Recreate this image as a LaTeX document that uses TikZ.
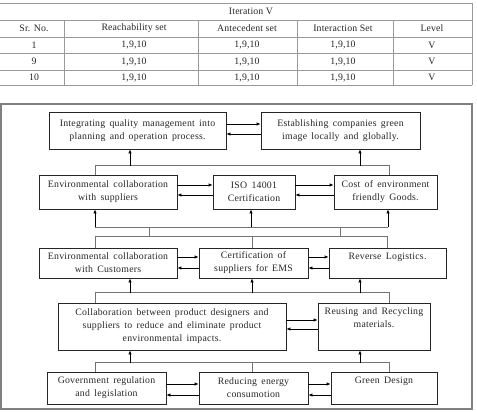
\documentclass[tikz,border=0pt]{standalone}
\usepackage{fontspec}
\setmainfont{Liberation Serif}
\newfontfamily\flowfont{Liberation Serif}[LetterSpace=2.5,WordSpace=1.6]
\newfontfamily\tabfont{Liberation Serif}[LetterSpace=1.5]
\usetikzlibrary{arrows.meta}
\begin{document}
\begin{tikzpicture}[x=1pt,y=-1pt,
 box/.style={draw=black!85,line width=0.8pt,inner sep=0pt,align=center,font=\flowfont\fontsize{9.8}{13}\selectfont,text=black!85},
 btext/.style={inner sep=0pt,align=center,font=\flowfont\fontsize{9.8}{13}\selectfont,text=black!85,anchor=north},
 bus/.style={draw=black!55,line width=0.8pt},
 arr/.style={draw=black,line width=0.8pt,-{Latex[length=4pt,width=3.5pt]}},
 tline/.style={draw=black!40,line width=0.6pt},
 ttext/.style={font=\tabfont\fontsize{9.8}{11}\selectfont,text=black!85,inner sep=0pt},
 frame/.style={draw=black!50,line width=1.3pt},
]
\useasboundingbox (0,0) rectangle (477,412);

% ---------- table ----------
\draw[tline] (0,3) -- (472,3) -- (472,85);
\foreach \yy in {20,37,53,70,85} \draw[tline] (0,\yy) -- (472,\yy);
\foreach \xx in {64,198,297,393} \draw[tline] (\xx,20) -- (\xx,85);
\node[ttext] (t0) at (251,11.5) {Iteration V};
\node[ttext] (h1) at (34,28.5) {Sr. No.};
\node[ttext] (h2) at (134,28.5) {Reachability set};
\node[ttext] (h3) at (247,28.5) {Antecedent set};
\node[ttext] (h4) at (343,28.5) {Interaction Set};
\node[ttext] (h5) at (432,28.5) {Level};
\foreach \n/\yy/\lab in {a/45/1,b/61.5/9,c/77.5/10}{
  \node[ttext] (r\n1) at (34,\yy) {\lab};
  \node[ttext] (r\n2) at (134,\yy) {1,9,10};
  \node[ttext] (r\n3) at (247,\yy) {1,9,10};
  \node[ttext] (r\n4) at (343,\yy) {1,9,10};
  \node[ttext] (r\n5) at (432,\yy) {V};
}

% ---------- flowchart frame ----------
\draw[frame] (1,104) rectangle (472,409);

% row 1
\node[box,minimum width=177pt,minimum height=37pt] (A) at (137.5,130.5) {Integrating quality management into\\planning and operation process.};
\node[box,minimum width=159pt,minimum height=37pt] (B) at (340.5,130.5) {Establishing companies green\\image locally and globally.};
% row 2
\node[box,minimum width=138pt,minimum height=34pt] (C) at (108,192) {Environmental collaboration\\with suppliers};
\node[box,minimum width=82pt,minimum height=34pt] (D) at (254,192) {ISO 14001\\Certification};
\node[box,minimum width=103pt,minimum height=34pt] (E) at (385.5,192) {Cost of environment\\friendly Goods.};
% row 3
\node[box,minimum width=138pt,minimum height=30pt] (F) at (108,263) {Environmental collaboration\\with Customers};
\node[box,minimum width=109pt,minimum height=30pt] (G) at (253.5,263) {Certification of\\suppliers for EMS};
\node[box,minimum width=117pt,minimum height=30pt] (H) at (387.5,263) {};
\node[btext] (Ht) at ([yshift=-5pt]H.north) {Reverse Logistics.};
% row 4
\node[box,minimum width=228pt,minimum height=47pt] (I) at (172,326.5) {Collaboration between product designers and\\suppliers to reduce and eliminate product\\environmental impacts.};
\node[box,minimum width=112pt,minimum height=47pt] (J) at (374,326.5) {};
\node[btext] (Jt) at ([yshift=-5pt]J.north) {Reusing and Recycling\\materials.};
% row 5
\node[box,minimum width=119pt,minimum height=32pt] (K) at (106.5,388) {Government regulation\\and legislation};
\node[box,minimum width=109pt,minimum height=32pt] (L) at (253.5,388) {Reducing energy\\consumotion};
\node[box,minimum width=106pt,minimum height=32pt] (M) at (384,388) {};
\node[btext] (Mt) at ([yshift=-5pt]M.north) {Green Design};

% horizontal two-way arrows
\draw[arr] ([yshift=6.5pt]A.east) -- ([yshift=6.5pt]B.west);
\draw[arr] ([yshift=-3.5pt]B.west) -- ([yshift=-3.5pt]A.east);
\draw[arr] ([yshift=7pt]C.east) -- ([yshift=7pt]D.west);
\draw[arr] ([yshift=-3pt]D.west) -- ([yshift=-3pt]C.east);
\draw[arr] ([yshift=7pt]D.east) -- ([yshift=7pt]E.west);
\draw[arr] ([yshift=-3pt]E.west) -- ([yshift=-3pt]D.east);
\draw[arr] ([yshift=6pt]F.east) -- ([yshift=6pt]G.west);
\draw[arr] ([yshift=-5pt]G.west) -- ([yshift=-5pt]F.east);
\draw[arr] ([yshift=6pt]G.east) -- ([yshift=6pt]H.west);
\draw[arr] ([yshift=-5pt]H.west) -- ([yshift=-5pt]G.east);
\draw[arr] ([yshift=6.5pt]I.east) -- ([yshift=6.5pt]J.west);
\draw[arr] ([yshift=-2.5pt]J.west) -- ([yshift=-2.5pt]I.east);
\draw[arr] ([yshift=4pt]K.east) -- ([yshift=4pt]L.west);
\draw[arr] ([yshift=-7pt]L.west) -- ([yshift=-7pt]K.east);
\draw[arr] ([yshift=4pt]L.east) -- ([yshift=4pt]M.west);
\draw[arr] ([yshift=-7pt]M.west) -- ([yshift=-7pt]L.east);

% bus 1 : C,E -> A,B
\draw[bus] ([xshift=-13pt]C.north) -- ++(0,-9) -| ([xshift=3.5pt]E.north);
\draw[arr] ([xshift=-7.5pt,yshift=-17pt]A.south) -- ([xshift=-7.5pt]A.south);
\draw[arr] ([xshift=19.5pt,yshift=-17pt]B.south) -- ([xshift=19.5pt]B.south);

% bus 2 : F,G,H -> C,D,E
\draw[bus] ([xshift=-13pt]F.north) -- ++(0,-11) -| (H.north);
\draw[bus] ([xshift=-1.5pt]G.north) -- ++(0,-11);
\draw[bus] ([xshift=-13pt,yshift=-18pt]C.south) -- ([xshift=2.5pt,yshift=-18pt]E.south);
\draw[bus] ([xshift=41pt,yshift=-18pt]C.south) -- ++(0,10);
\draw[bus] ([xshift=-45.5pt,yshift=-18pt]E.south) -- ++(0,10);
\draw[arr] ([xshift=-13pt,yshift=-18pt]C.south) -- ([xshift=-13pt]C.south);
\draw[arr] ([xshift=-3pt,yshift=-18pt]D.south) -- ([xshift=-3pt]D.south);
\draw[arr] ([xshift=2.5pt,yshift=-18pt]E.south) -- ([xshift=2.5pt]E.south);

% bus 3 : I,J -> F,G,H
\draw[bus] ([xshift=-77pt]I.north) -- ++(0,-10) -| ([xshift=15pt]J.north);
\draw[arr] ([xshift=22pt,yshift=-15pt]F.south) -- ([xshift=22pt]F.south);
\draw[arr] ([xshift=-1.5pt,yshift=-15pt]G.south) -- ([xshift=-1.5pt]G.south);
\draw[arr] ([xshift=-27.5pt,yshift=-15pt]H.south) -- ([xshift=-27.5pt]H.south);

% bus 4 : K,L,M -> I,J
\draw[bus] ([xshift=-11.5pt]K.north) -- ++(0,-9) -| ([xshift=5pt]M.north);
\draw[bus] ([xshift=-1.5pt]L.north) -- ++(0,-9);
\draw[arr] ([xshift=-42pt,yshift=-13pt]I.south) -- ([xshift=-42pt]I.south);
\draw[arr] ([xshift=-14pt,yshift=-13pt]J.south) -- ([xshift=-14pt]J.south);
\end{tikzpicture}
\end{document}
